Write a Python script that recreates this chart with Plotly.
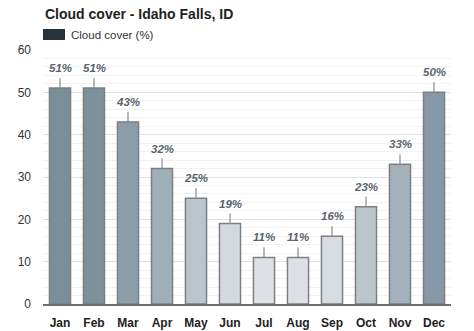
import plotly.graph_objects as go

months = ["Jan", "Feb", "Mar", "Apr", "May", "Jun", "Jul", "Aug", "Sep", "Oct", "Nov", "Dec"]
cloud_cover = [51, 51, 43, 32, 25, 19, 11, 11, 16, 23, 33, 50]
bar_colors = ["#7a8f99", "#7b929a", "#8b9ea9", "#a0aeb6", "#bcc5cb", "#d3d9dd",
              "#dde1e5", "#dde1e5", "#d6dce0", "#bbc5ca", "#a3b1ba", "#8799a7"]
y_ticks = [0, 10, 20, 30, 40, 50, 60]

FONT = "Liberation Sans, Arial, sans-serif"

fig = go.Figure()
fig.add_trace(go.Bar(
    x=months, y=cloud_cover,
    marker=dict(color=bar_colors, line=dict(color="#7d7f82", width=1.5)),
    width=0.62,
    error_y=dict(type="data", symmetric=False, array=[2.4] * len(months),
                 arrayminus=[0] * len(months), width=0, thickness=1.2, color="#8a8d90"),
    showlegend=False,
    hoverinfo="x+y",
))

for m, v in zip(months, cloud_cover):
    fig.add_annotation(x=m, y=v, text=f"{v}%", showarrow=False, yshift=20,
                       font=dict(family=FONT, size=11.5, color="#5b646e", weight="bold", style="italic"))

# title and legend
fig.add_annotation(xref="paper", yref="paper", x=-0.001, y=1.0, yshift=36, xanchor="left",
                   yanchor="middle", text="<b>Cloud cover - Idaho Falls, ID</b>", showarrow=False,
                   font=dict(family=FONT, size=14, color="#222222"))
fig.add_shape(type="rect", xref="paper", yref="paper", x0=0, x1=22 / 408, y0=1 + 10 / 254,
              y1=1 + 21 / 254, fillcolor="#27323c", line=dict(width=0))
fig.add_annotation(xref="paper", yref="paper", x=26 / 408, y=1 + 15.5 / 254, xanchor="left",
                   yanchor="middle", text="Cloud cover (%)", showarrow=False,
                   font=dict(family=FONT, size=11.5, color="#333333"))

fig.update_layout(
    width=474, height=331,
    margin=dict(l=43, r=23, t=50, b=27),
    paper_bgcolor="white", plot_bgcolor="white",
    font=dict(family=FONT, size=12, color="#333333"),
    xaxis=dict(showline=True, linecolor="#6e6e6e", linewidth=2, automargin=False,
               tickfont=dict(family=FONT, size=12, color="#222222", weight="bold"),
               ticks="", ticklabelstandoff=7),
    yaxis=dict(range=[0, 60], tickvals=y_ticks, showgrid=True, gridcolor="#e0e0e0",
               gridwidth=1, zeroline=False, showline=False, automargin=False,
               minor=dict(dtick=2, showgrid=True, gridcolor="#f2f2f2", gridwidth=1),
               ticklabelstandoff=11,
               tickfont=dict(family=FONT, size=12, color="#333333")),
)

fig.write_html("out.html")
